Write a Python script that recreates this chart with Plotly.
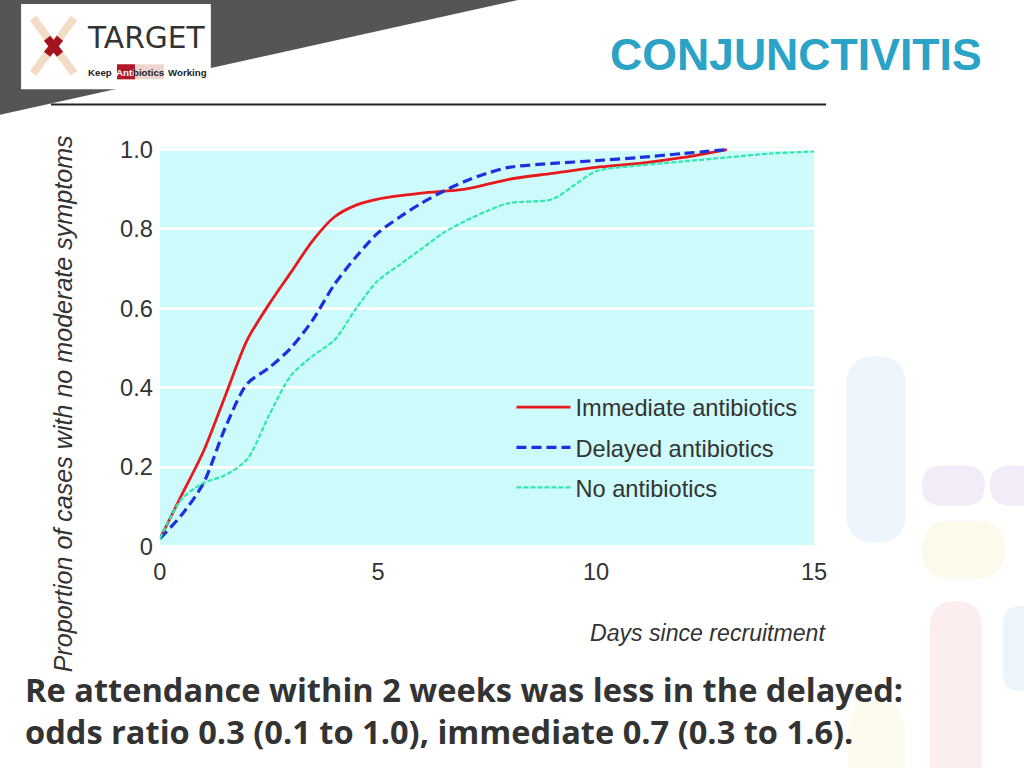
import plotly.graph_objects as go

# ---- data ----
days_immediate = [0, 0.5, 1, 1.5, 2, 2.5, 3, 3.5, 4, 4.5, 5, 6, 7, 8, 9, 10, 11, 12, 13]
prop_immediate = [0.02, 0.13, 0.24, 0.38, 0.52, 0.61, 0.69, 0.77, 0.83, 0.86, 0.875, 0.89, 0.90, 0.925, 0.94, 0.955, 0.965, 0.98, 1.0]

days_delayed = [0, 0.5, 1, 1.5, 2, 2.5, 3, 3.5, 4, 4.5, 5, 5.5, 6, 6.5, 7, 7.5, 8, 9, 10, 11, 12, 13]
prop_delayed = [0.02, 0.08, 0.16, 0.30, 0.41, 0.45, 0.50, 0.57, 0.66, 0.73, 0.79, 0.83, 0.865, 0.895, 0.92, 0.94, 0.955, 0.965, 0.972, 0.98, 0.99, 1.0]

days_none = [0, 0.5, 1, 1.5, 2, 2.5, 3, 3.5, 4, 4.5, 5, 5.5, 6, 6.5, 7, 7.5, 8, 9, 9.5, 10, 11, 12, 13, 14, 15]
prop_none = [0.02, 0.12, 0.16, 0.18, 0.22, 0.33, 0.43, 0.48, 0.52, 0.60, 0.67, 0.71, 0.75, 0.79, 0.82, 0.845, 0.865, 0.875, 0.91, 0.945, 0.96, 0.97, 0.98, 0.99, 0.995]

series_names = ["Immediate antibiotics", "Delayed antibiotics", "No antibiotics"]
x_ticks = [0, 5, 10, 15]
y_ticks = [0, 0.2, 0.4, 0.6, 0.8, 1.0]
y_tick_labels = ["0", "0.2", "0.4", "0.6", "0.8", "1.0"]

title_text = "CONJUNCTIVITIS"
x_title = "Days since recruitment"
y_title = "Proportion of cases with no moderate symptoms"
footer_lines = ["Re attendance within 2 weeks was less in the delayed:",
                "odds ratio 0.3 (0.1 to 1.0), immediate 0.7 (0.3 to 1.6)."]

W, H = 1024, 768
CHART_FONT = "Liberation Sans, Arial, sans-serif"
SLIDE_FONT = "Open Sans, Liberation Sans, Arial, sans-serif"
TITLE_FONT = "Liberation Sans, Arial, sans-serif"

# mapping from target picture pixels to figure paper coordinates
AX, BX = 5.9, 0.9817
AY, BY = 11.9, 0.967
FS = 0.975


def px(s):
    return ((s - AX) / BX) / W


def py(s):
    return 1 - ((s - AY) / BY) / H


def fs(size):
    return round(size / FS, 1)


fig = go.Figure()
fig.add_trace(go.Scatter(x=days_immediate, y=prop_immediate, name=series_names[0], mode="lines",
                         legend="legend",
                         line=dict(color="#e8191c", width=2.8, shape="spline", smoothing=0.8)))
fig.add_trace(go.Scatter(x=days_delayed, y=prop_delayed, name=series_names[1], mode="lines",
                         legend="legend2",
                         line=dict(color="#1f2fe0", width=3.2, dash="10px,5px", shape="spline", smoothing=0.8)))
fig.add_trace(go.Scatter(x=days_none, y=prop_none, name=series_names[2], mode="lines",
                         legend="legend3",
                         line=dict(color="#2ee8b0", width=2.2, dash="5px,2px", shape="spline", smoothing=0.8)))

shapes = []
# dark diagonal band top-left
shapes.append(dict(type="path", xref="paper", yref="paper",
                   path=f"M {px(-10)} {py(-10)} L {px(545)} {py(-10)} L {px(522)} {py(0)} "
                        f"L {px(0)} {py(115)} L {px(-10)} {py(117)} Z",
                   fillcolor="#555555", line=dict(width=0), layer="below"))
# separator line
shapes.append(dict(type="line", xref="paper", yref="paper", x0=px(50), x1=px(826), y0=py(105), y1=py(105),
                   line=dict(color="#222222", width=2)))
# logo box
shapes.append(dict(type="rect", xref="paper", yref="paper", x0=px(20), x1=px(210), y0=py(90), y1=py(5),
                   fillcolor="white", line=dict(width=0), layer="below"))
# pills X in logo
for (x0, y0, x1, y1) in [(32, 19, 73, 74), (73, 19, 32, 74)]:
    shapes.append(dict(type="line", xref="paper", yref="paper", x0=px(x0), y0=py(y0), x1=px(x1), y1=py(y1),
                       line=dict(color="#f3dcc6", width=8)))
for (x0, y0, x1, y1) in [(46, 39, 59, 55), (59, 39, 46, 55)]:
    shapes.append(dict(type="line", xref="paper", yref="paper", x0=px(x0), y0=py(y0), x1=px(x1), y1=py(y1),
                       line=dict(color="#a3121f", width=8)))
# small capsule behind "Antibiotics"
shapes.append(dict(type="rect", xref="paper", yref="paper", x0=px(116), x1=px(163), y0=py(80), y1=py(65),
                   fillcolor="#ecd6cf", line=dict(width=0)))
shapes.append(dict(type="rect", xref="paper", yref="paper", x0=px(116), x1=px(134), y0=py(80), y1=py(65),
                   fillcolor="#b0192a", line=dict(width=0)))


def pill(x0, y0, x1, y1, color):
    w, h = x1 - x0, y1 - y0
    r = min(w, h) / 2
    path = (f"M {px(x0 + r)} {py(y0)} L {px(x1 - r)} {py(y0)} "
            f"Q {px(x1)} {py(y0)} {px(x1)} {py(y0 + r)} L {px(x1)} {py(y1 - r)} "
            f"Q {px(x1)} {py(y1)} {px(x1 - r)} {py(y1)} L {px(x0 + r)} {py(y1)} "
            f"Q {px(x0)} {py(y1)} {px(x0)} {py(y1 - r)} L {px(x0)} {py(y0 + r)} "
            f"Q {px(x0)} {py(y0)} {px(x0 + r)} {py(y0)} Z")
    return dict(type="path", xref="paper", yref="paper", path=path, fillcolor=color,
                line=dict(width=0), layer="below")


shapes += [
    pill(846, 356, 906, 542, "rgba(200,225,245,0.35)"),
    pill(922, 465, 985, 505, "rgba(220,200,235,0.35)"),
    pill(990, 465, 1040, 505, "rgba(220,200,235,0.35)"),
    pill(922, 520, 1005, 578, "rgba(250,240,200,0.35)"),
    pill(930, 600, 982, 790, "rgba(245,205,210,0.35)"),
    pill(1003, 605, 1040, 690, "rgba(200,225,245,0.35)"),
    pill(848, 700, 905, 800, "rgba(250,240,200,0.3)"),
]

annotations = [
    dict(text="<b>" + title_text + "</b>", x=px(796), y=py(55), xref="paper", yref="paper", showarrow=False,
         font=dict(family=TITLE_FONT, size=fs(43.5), color="#2aa3c6"), xanchor="center", yanchor="middle"),
    dict(text="TARGET", x=px(146), y=py(38), xref="paper", yref="paper", showarrow=False,
         font=dict(family="DejaVu Sans, sans-serif", size=fs(29), color="#333333"),
         xanchor="center", yanchor="middle"),
    dict(text="<b>Keep</b>", x=px(113), y=py(73), xref="paper", yref="paper", showarrow=False,
         font=dict(family=CHART_FONT, size=fs(9.5), color="#222222"), xanchor="right", yanchor="middle"),
    dict(text="<b>Anti</b>", x=px(125), y=py(73), xref="paper", yref="paper", showarrow=False,
         font=dict(family=CHART_FONT, size=fs(9.5), color="white"), xanchor="center", yanchor="middle"),
    dict(text="<b>biotics</b>", x=px(148), y=py(73), xref="paper", yref="paper", showarrow=False,
         font=dict(family=CHART_FONT, size=fs(9.5), color="#222222"), xanchor="center", yanchor="middle"),
    dict(text="<b>Working</b>", x=px(165), y=py(73), xref="paper", yref="paper", showarrow=False,
         font=dict(family=CHART_FONT, size=fs(9.5), color="#222222"), xanchor="left", yanchor="middle"),
    dict(text="<i>" + y_title + "</i>", x=px(62), y=py(404), xref="paper", yref="paper", showarrow=False,
         textangle=-90, font=dict(family=CHART_FONT, size=fs(24.5), color="#333333"),
         xanchor="center", yanchor="middle"),
    dict(text="<i>" + x_title + "</i>", x=px(828), y=py(632), xref="paper", yref="paper", showarrow=False,
         font=dict(family=CHART_FONT, size=fs(22.5), color="#333333"), xanchor="right", yanchor="middle"),
    dict(text="<b>" + footer_lines[0] + "</b>", x=px(22), y=py(688), xref="paper", yref="paper",
         showarrow=False, font=dict(family=SLIDE_FONT, size=fs(31.8), color="#333333"),
         xanchor="left", yanchor="middle"),
    dict(text="<b>" + footer_lines[1] + "</b>", x=px(22), y=py(730), xref="paper", yref="paper",
         showarrow=False, font=dict(family=SLIDE_FONT, size=fs(31.8), color="#333333"),
         xanchor="left", yanchor="middle"),
]

legend_common = dict(xanchor="left", yanchor="middle", bgcolor="rgba(0,0,0,0)",
                     font=dict(family=CHART_FONT, size=fs(23), color="#333333"), itemwidth=54)

fig.update_layout(
    width=W, height=H,
    margin=dict(l=0, r=0, t=0, b=0),
    paper_bgcolor="white",
    plot_bgcolor="#cdfafa",
    showlegend=True,
    legend=dict(x=px(511), y=py(407), **legend_common),
    legend2=dict(x=px(511), y=py(447), **legend_common),
    legend3=dict(x=px(511), y=py(487), **legend_common),
    xaxis=dict(domain=[px(159), px(814)], range=[0, 15], tickvals=x_ticks, showgrid=False, zeroline=False,
               showline=False, ticks="", tickfont=dict(family=CHART_FONT, size=fs(23), color="#333333"),
               ticklabelstandoff=8),
    yaxis=dict(domain=[py(547), py(148)], range=[-0.003, 1.005], tickvals=y_ticks, ticktext=y_tick_labels,
               showgrid=True, gridcolor="white", gridwidth=3, zeroline=False, showline=False, ticks="",
               tickfont=dict(family=CHART_FONT, size=fs(23), color="#333333"), ticklabelstandoff=6),
    shapes=shapes,
    annotations=annotations,
)

fig.write_html("out.html", config=dict(displayModeBar=False),
               post_script="document.body.style.margin='0';document.body.style.padding='0';"
                           "document.body.style.overflow='hidden';")
